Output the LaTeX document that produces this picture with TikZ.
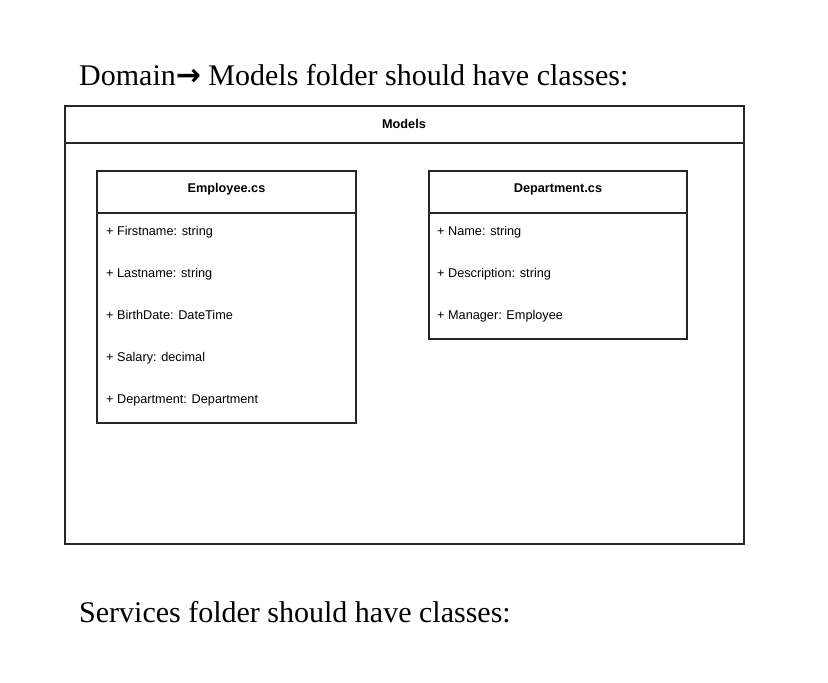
\documentclass[tikz,border=0pt]{standalone}
\usepackage{fontspec}
\setmainfont{Liberation Serif}
\newfontfamily\diafont{Liberation Sans}
\newfontfamily\arrowfont{DejaVu Sans}
\begin{document}
\begin{tikzpicture}[x=1pt,y=-1pt,
  frame/.style={draw=black!85,line width=1.2pt},
  ttl/.style={anchor=base west,inner sep=0pt,font=\fontsize{30}{35}\selectfont},
  hdr/.style={anchor=base,inner sep=0pt,font=\diafont\bfseries\fontsize{12.7}{15}\selectfont},
  item/.style={anchor=base west,inner sep=0pt,font=\diafont\fontsize{12.7}{15}\selectfont}]
\useasboundingbox (0,0) rectangle (828,683);
\node[ttl] (title) at (79,85) {Domain{\arrowfont\bfseries →} Models folder should have classes:};
\node[ttl] (title2) at (79,622) {Services folder should have classes:};
% outer container
\draw[frame] (65,106) rectangle (744,544);
\draw[frame] (65,143) -- (744,143);
\node[hdr] (models) at (404,128.5) {Models};
% Employee
\draw[frame] (97,171) rectangle (356,423);
\draw[frame] (97,213) -- (356,213);
\node[hdr] (emp) at (226.5,192.5) {Employee.cs};
\node[item] (e1) at (106,235.5) {+ Firstname: string};
\node[item] (e2) at (106,277.5) {+ Lastname: string};
\node[item] (e3) at (106,319.5) {+ BirthDate: DateTime};
\node[item] (e4) at (106,361.5) {+ Salary: decimal};
\node[item] (e5) at (106,403.5) {+ Department: Department};
% Department
\draw[frame] (429,171) rectangle (687,339);
\draw[frame] (429,213) -- (687,213);
\node[hdr] (dep) at (558,192.5) {Department.cs};
\node[item] (d1) at (437,235.5) {+ Name: string};
\node[item] (d2) at (437,277.5) {+ Description: string};
\node[item] (d3) at (437,319.5) {+ Manager: Employee};
\end{tikzpicture}
\end{document}
